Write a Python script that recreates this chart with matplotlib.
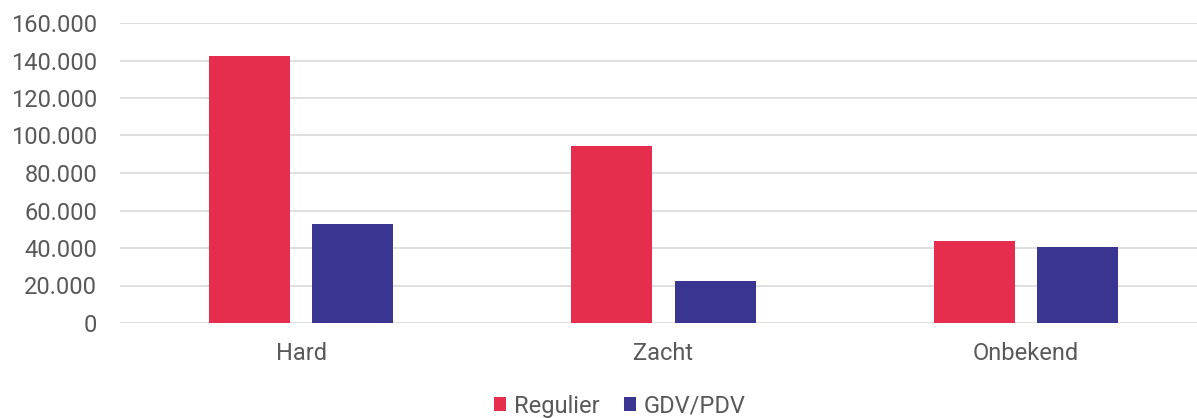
import matplotlib
matplotlib.use("Agg")
import numpy as np
from matplotlib import pyplot as plt
from matplotlib.ticker import FuncFormatter

# Data
categories = ["Hard", "Zacht", "Onbekend"]
regulier = [142400, 94200, 43900]
gdv_pdv = [52600, 22400, 40700]
series_names = ["Regulier", "GDV/PDV"]

red = "#E62D4D"
blue = "#393591"
text_color = "#595959"

plt.rcParams['font.family'] = ['Roboto', 'DejaVu Sans']

fig = plt.figure(figsize=(11.97, 4.18), dpi=100)
ax = fig.add_axes([120 / 1197, 95 / 418, 1 - 120 / 1197, 300 / 418])

x = np.arange(len(categories))
width = 0.224
offset = 0.1425
ax.bar(x - offset, regulier, width, color=red, label=series_names[0], zorder=3)
ax.bar(x + offset, gdv_pdv, width, color=blue, label=series_names[1], zorder=3)

ax.set_ylim(0, 160000)
ax.set_xlim(-0.5, -0.5 + 1077 / 362.3)
ax.set_yticks(np.arange(0, 160001, 20000))
ax.yaxis.set_major_formatter(FuncFormatter(lambda v, p: f"{int(v):,}".replace(",", ".")))
ax.set_xticks(x)
ax.set_xticklabels(categories)

ax.grid(axis='y', color="#D9D9D9", linewidth=1.2, zorder=0)
for s in ax.spines.values():
    s.set_visible(False)
ax.tick_params(axis='both', length=0, labelsize=17, colors=text_color)
ax.tick_params(axis='y', pad=16.5)
ax.tick_params(axis='x', pad=14)

ax.legend(loc='center', bbox_to_anchor=(620 / 1197, 12 / 418), bbox_transform=fig.transFigure,
          ncol=2, frameon=False, fontsize=17, labelcolor=text_color,
          handlelength=0.52, handleheight=0.52, handletextpad=0.34, columnspacing=1.0,
          borderpad=0, borderaxespad=0)

plt.savefig("out.png", dpi=100)
